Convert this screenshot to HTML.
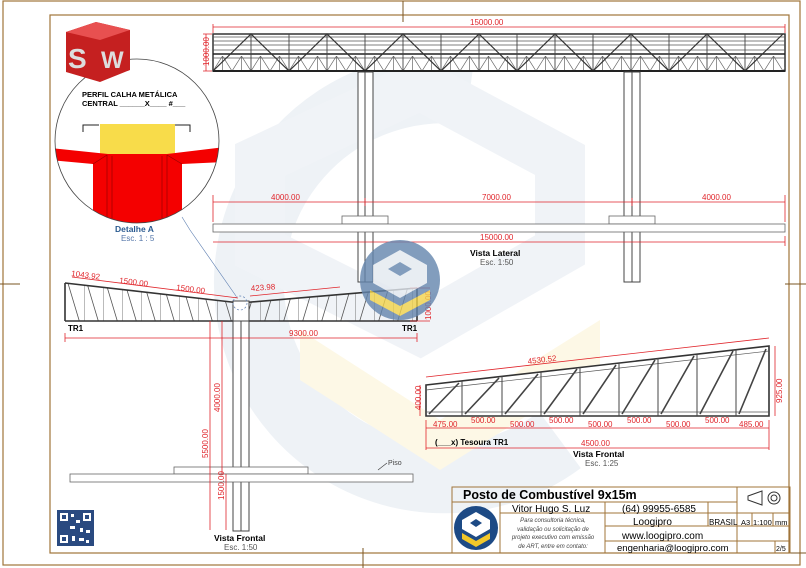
<!DOCTYPE html>
<html><head><meta charset="utf-8"><style>
html,body{margin:0;padding:0;background:#fff}
svg{display:block;font-family:"Liberation Sans",sans-serif}
.d{fill:#e0252b;font-size:8px}
.dl{stroke:#e0252b;stroke-width:.8;fill:none}
</style></head><body>
<svg width="806" height="568" viewBox="0 0 806 568">
<defs>
<pattern id="zz" x="213" y="56" width="19" height="15" patternUnits="userSpaceOnUse">
<path d="M0 15L9.5 0L19 15M9.5 0V15" stroke="#666" stroke-width=".7" fill="none"/>
</pattern>
<pattern id="fl" x="65" y="0" width="19" height="600" patternUnits="userSpaceOnUse">
<path d="M0 0V600M2 280L17 330" stroke="#555" stroke-width=".8" fill="none"/>
</pattern>
<pattern id="fr" x="241" y="0" width="19" height="600" patternUnits="userSpaceOnUse">
<path d="M0 0V600M2 330L17 280" stroke="#555" stroke-width=".8" fill="none"/>
</pattern>
<clipPath id="cl"><circle cx="137" cy="141" r="82"/></clipPath>
</defs>
<!-- frames -->
<rect x="3" y="1" width="797" height="564" fill="none" stroke="#a0743a" stroke-width="1.2"/>
<rect x="50" y="15" width="739" height="538" fill="none" stroke="#a0743a" stroke-width="1.2"/>
<path d="M403 1V22M0 284H20M785 284H806M780 553H806M363 548V568" stroke="#7a5522" stroke-width="1"/>
<!-- watermark -->
<path d="M470 90 A195 195 0 1 0 560 440" fill="none" stroke="#eef2f6" stroke-width="70"/>
<path d="M260 160L420 85L560 160L560 250L420 330L260 250Z" fill="none" stroke="#f0f3f7" stroke-width="50"/>
<path d="M300 330L440 420L600 320L600 370L440 470L300 380Z" fill="#fdf8e6"/>
<!-- Lateral view truss -->
<rect x="213" y="34" width="572" height="37" fill="#fff" stroke="#333" stroke-width="1.5"/>
<path d="M213 37H785M213 41H785M213 45H785M213 50H785M213 58H785" stroke="#555" stroke-width=".8"/>
<path d="M213 54H785" stroke="#222" stroke-width="1.5"/>
<rect x="213" y="56" width="572" height="15" fill="url(#zz)"/>
<path d="M213 71L251 34L289 71L327 34L365 71L403 34L441 71L479 34L517 71L555 34L593 71L631 34L669 71L707 34L745 71L783 34" stroke="#333" stroke-width="1.2" fill="none"/>
<path d="M251 34V71M289 34V71M327 34V71M365 34V71M403 34V71M441 34V71M479 34V71M517 34V71M555 34V71M593 34V71M631 34V71M669 34V71M707 34V71M745 34V71" stroke="#444" stroke-width=".9"/>
<path d="M213 71H785" stroke="#222" stroke-width="2"/>
<!-- columns lateral -->
<rect x="358" y="72" width="15" height="210" fill="#fff" stroke="#444"/><path d="M365 72V282" stroke="#444"/>
<rect x="624" y="72" width="16" height="210" fill="#fff" stroke="#444"/><path d="M632 72V282" stroke="#444"/>
<rect x="342" y="216" width="46" height="8" fill="#fff" stroke="#666" stroke-width=".8"/>
<rect x="609" y="216" width="46" height="8" fill="#fff" stroke="#666" stroke-width=".8"/>
<rect x="213" y="224" width="572" height="8" fill="#fff" stroke="#666" stroke-width=".8"/>
<!-- lateral dims -->
<path class="dl" d="M213 27H785M785 24V33M213 24V33"/><text class="d" x="470" y="25">15000.00</text>
<path class="dl" d="M206 34V71M203 34H212M203 71H212"/><text class="d" transform="translate(209,66) rotate(-90)">1000.00</text>
<path class="dl" d="M213 202H785M365 198V206M632 198V206M785 195V222M213 195V222"/>
<text class="d" x="271" y="200">4000.00</text><text class="d" x="482" y="200">7000.00</text><text class="d" x="702" y="200">4000.00</text>
<path class="dl" d="M213 242H785M785 236V246"/><text class="d" x="480" y="240">15000.00</text>
<text x="470" y="256" font-size="8.5" font-weight="bold">Vista Lateral</text><text x="480" y="265" font-size="8" fill="#555">Esc. 1:50</text>
<!-- Frontal view -->
<polygon points="65,283 240,303 240,321 65,321" fill="url(#fl)"/>
<polygon points="240,303 417,288 417,321 240,321" fill="url(#fr)"/>
<path d="M65 283L240 303L417 288M65 321H417M65 283V321M417 288V321" stroke="#333" stroke-width="1.6" fill="none"/>
<rect x="233" y="301" width="16" height="20" fill="#fff" stroke="#444"/>
<circle cx="240" cy="303" r="7" fill="none" stroke="#5b7db0" stroke-dasharray="2 2" stroke-width=".7"/>
<path d="M236 296L190 230L182 217" stroke="#5b7db0" stroke-width=".6" fill="none"/>
<rect x="233" y="321" width="16" height="210" fill="#fff" stroke="#444"/><path d="M241 321V531" stroke="#444"/>
<rect x="174" y="467" width="134" height="7" fill="#fff" stroke="#666" stroke-width=".8"/>
<rect x="70" y="474" width="343" height="8" fill="#fff" stroke="#666" stroke-width=".8"/>
<text x="68" y="331" font-size="8" font-weight="bold">TR1</text><text x="402" y="331" font-size="8" font-weight="bold">TR1</text>
<path class="dl" d="M65 338H417M65 333V342M417 333V342"/><text class="d" x="289" y="336">9300.00</text>
<path class="dl" d="M210 321V530M222 321V474M226 474V530"/>
<text class="d" transform="translate(208,458) rotate(-90)">5500.00</text>
<text class="d" transform="translate(220,412) rotate(-90)">4000.00</text>
<text class="d" transform="translate(224,500) rotate(-90)">1500.00</text>
<path class="dl" d="M72 277L238 298M250 296L340 287M410 288H430M410 321H430"/>
<text class="d" transform="translate(71,276) rotate(7)">1043.92</text>
<text class="d" transform="translate(119,283) rotate(7)">1500.00</text>
<text class="d" transform="translate(176,290) rotate(7)">1500.00</text>
<text class="d" transform="translate(251,291) rotate(-4)">423.98</text>
<text class="d" transform="translate(431,320) rotate(-90)">1000.00</text>
<path d="M378 470L387 463" stroke="#333" stroke-width=".6"/><text x="388" y="465" font-size="7" fill="#444">Piso</text>
<text x="214" y="541" font-size="8.5" font-weight="bold">Vista Frontal</text><text x="224" y="550" font-size="8" fill="#555">Esc. 1:50</text>
<!-- Tesoura TR1 -->
<polygon points="426,385 769,346 769,416 426,416" fill="#fff" stroke="#333" stroke-width="1.6"/>
<path d="M426 390L769 351M426 412H769" stroke="#555" stroke-width=".7"/>
<path d="M462 381V416M502 376V416M541 372V416M580 367V416M619 363V416M658 358V416M697 354V416M736 349V416" stroke="#444" stroke-width="1"/>
<path d="M429 414L459 383M465 414L499 378M505 414L538 374M544 414L577 369M583 414L616 365M622 414L655 360M661 414L694 356M700 414L733 351M739 414L766 349" stroke="#444" stroke-width="1.6"/>
<path class="dl" d="M426 377L769 338M775 346V416M420 385V416M426 428H769M426 448H769M426 420V450M769 420V450"/>
<text class="d" transform="translate(528,364) rotate(-6.5)" font-size="9">4530.52</text>
<text class="d" transform="translate(782,403) rotate(-90)">925.00</text>
<text class="d" transform="translate(421,410) rotate(-90)">400.00</text>
<text class="d" x="433" y="427">475.00</text><text class="d" x="471" y="423">500.00</text><text class="d" x="510" y="427">500.00</text>
<text class="d" x="549" y="423">500.00</text><text class="d" x="588" y="427">500.00</text><text class="d" x="627" y="423">500.00</text>
<text class="d" x="666" y="427">500.00</text><text class="d" x="705" y="423">500.00</text><text class="d" x="739" y="427">485.00</text>
<text class="d" x="581" y="446">4500.00</text>
<text x="435" y="445" font-size="8" font-weight="bold">(___x) Tesoura TR1</text>
<text x="573" y="457" font-size="8.5" font-weight="bold">Vista Frontal</text><text x="585" y="466" font-size="8" fill="#555">Esc. 1:25</text>
<!-- center logo -->
<g opacity=".8">
<circle cx="400" cy="280" r="40" fill="#6385ad"/>
<path d="M400 250L427 265V283L400 298L373 283V265Z" fill="#e3e9f0"/>
<path d="M400 262L412 269L400 276L388 269Z" fill="#6385ad"/>
<path d="M370 290L400 306L430 290V300L400 316L370 300Z" fill="#f2d34a"/>
</g>
<!-- detail A -->
<g clip-path="url(#cl)">
<rect x="50" y="55" width="175" height="175" fill="#fff"/>
<rect x="100" y="124" width="75" height="30" fill="#f8dc4a"/>
<path d="M83 132V125H99M190 132V125H175" stroke="#222" fill="none"/>
<path d="M50 148L108 154L167 154L225 147L225 162L182 164L182 230H93L93 164L50 160Z" fill="#f40000"/>
<path d="M107 155V225M112 156V225M162 156V225M167 155V225M93 164L107 155M182 164L167 155" stroke="#900" stroke-width=".7"/>
</g>
<circle cx="137" cy="141" r="82" fill="none" stroke="#444" stroke-width=".8"/>
<text x="82" y="97" font-size="7.5" font-weight="bold">PERFIL CALHA METÁLICA</text>
<text x="82" y="106" font-size="7.5" font-weight="bold">CENTRAL ______X____ #___</text>
<text x="115" y="232" font-size="8.5" font-weight="bold" fill="#2a5a90">Detalhe A</text><text x="121" y="241" font-size="8" fill="#5577aa">Esc. 1 : 5</text>
<!-- SW cube -->
<path d="M66 32L96 22L130 30L130 70L100 82L66 72Z" fill="#c52020"/>
<path d="M66 32L96 22L130 30L100 40Z" fill="#e85050"/>
<text x="68" y="68" font-size="28" font-weight="bold" fill="#ddd">S</text><text x="101" y="68" font-size="24" font-weight="bold" fill="#ddd">W</text>
<!-- QR -->
<rect x="57" y="510" width="37" height="36" fill="#2a4a80"/>
<rect x="60" y="513" width="8" height="8" fill="#fff"/><rect x="83" y="513" width="8" height="8" fill="#fff"/><rect x="60" y="535" width="8" height="8" fill="#fff"/>
<rect x="62" y="515" width="4" height="4" fill="#2a4a80"/><rect x="85" y="515" width="4" height="4" fill="#2a4a80"/><rect x="62" y="537" width="4" height="4" fill="#2a4a80"/>
<path d="M71 514h3v3h-3zM76 520h4v3h-4zM70 526h5v3h-5zM80 528h3v4h-3zM86 530h4v3h-4zM72 536h3v5h-3zM79 538h5v3h-5zM86 540h3v3h-3z" fill="#fff"/>
<!-- title block -->
<g stroke="#a0743a" fill="none" stroke-width="1">
<rect x="452" y="487" width="338" height="66"/>
<path d="M452 502H737M500 513H737M605 526H790M605 541H790M500 502V553M605 502V553M708 502V526M737 487V553M737 513H790M752 513V526M773 513V526M775 541V553"/>
</g>
<text x="463" y="499" font-size="12.5" font-weight="bold">Posto de Combustível 9x15m</text>
<text x="512" y="512" font-size="10">Vitor Hugo S. Luz</text>
<text x="622" y="512" font-size="10">(64) 99955-6585</text>
<text x="633" y="525" font-size="10">Loogipro</text>
<text x="709" y="525" font-size="8">BRASIL</text>
<text x="741" y="525" font-size="7.5">A3</text><text x="753" y="525" font-size="7.5">1:100</text><text x="775" y="525" font-size="7.5">mm</text>
<text x="622" y="539" font-size="10">www.loogipro.com</text>
<text x="617" y="551" font-size="9.5">engenharia@loogipro.com</text>
<text x="776" y="551" font-size="7">2/5</text>
<g font-size="6" font-style="italic" fill="#444" text-anchor="middle">
<text x="553" y="522">Para consultoria técnica,</text><text x="553" y="531">validação ou solicitação de</text>
<text x="553" y="539">projeto executivo com emissão</text><text x="553" y="548">de ART, entre em contato:</text></g>
<path d="M748 496L762 491V505L748 500Z" fill="none" stroke="#333"/><circle cx="774" cy="498" r="6" fill="none" stroke="#333"/><circle cx="774" cy="498" r="3" fill="none" stroke="#333"/>
<circle cx="476" cy="528" r="22" fill="#1d4a85"/>
<path d="M476 512L490 520V529L476 537L462 529V520Z" fill="#fff"/><path d="M476 519L482 523L476 527L470 523Z" fill="#1d4a85"/>
<path d="M462 533L476 541L490 533V539L476 547L462 539Z" fill="#f2c82a"/>
</svg>
</body></html>
